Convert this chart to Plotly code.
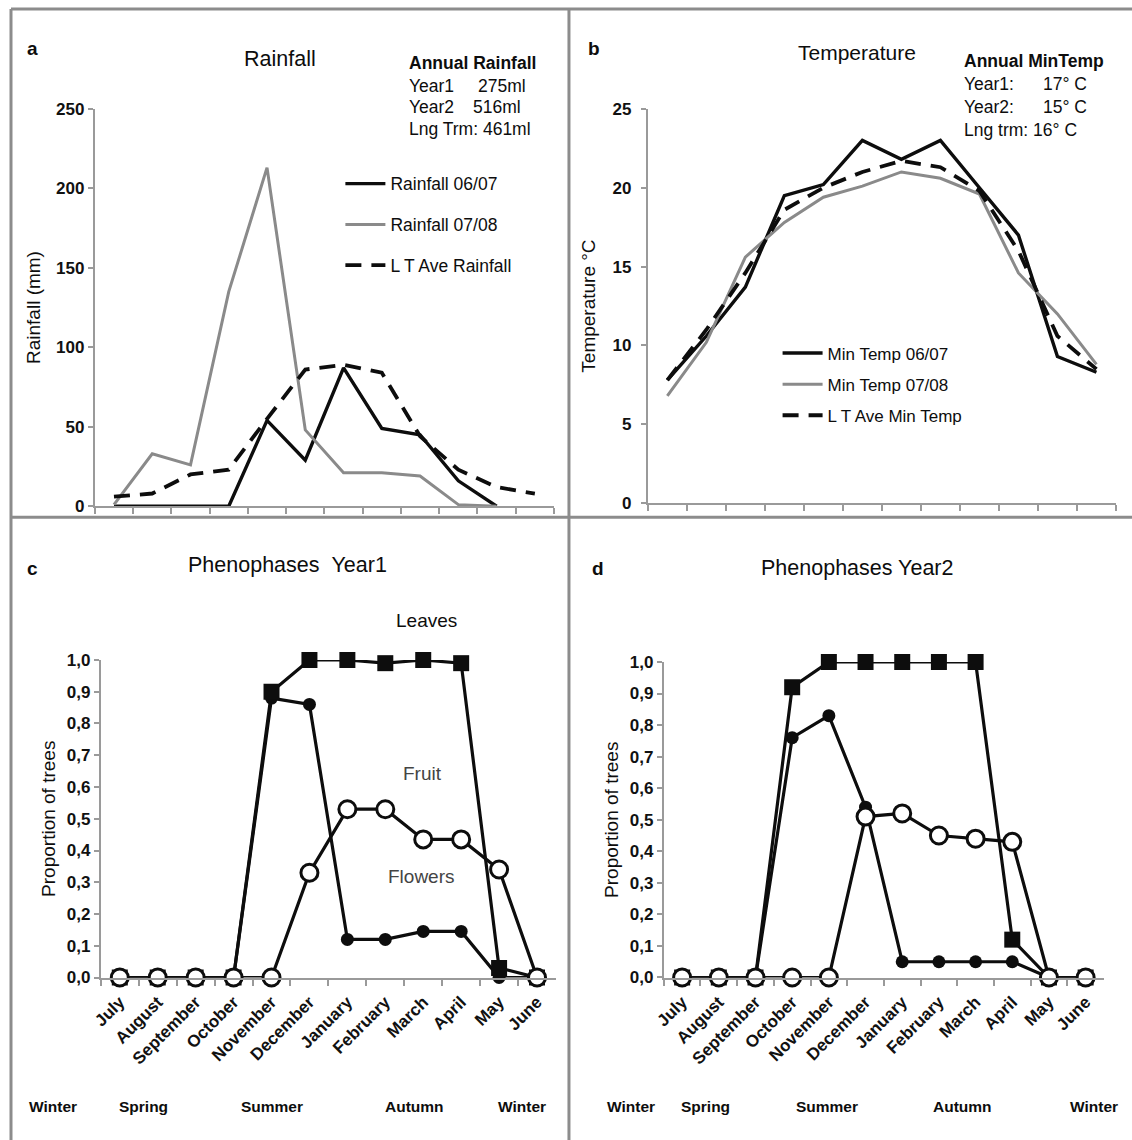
import plotly.graph_objects as go

W, H = 1132, 1150

months = ["July", "August", "September", "October", "November", "December",
          "January", "February", "March", "April", "May", "June"]
idx = list(range(12))

# Panel a: rainfall (mm)
rain_0607 = [0, 0, 0, 0, 54, 29, 87, 49, 45, 16, 0, None]
rain_0708 = [1, 33, 26, 135, 213, 48, 21, 21, 19, 1, 0, None]
rain_lt = [6, 8, 20, 23, 55, 86, 89, 84, 44, 23, 12, 8]

# Panel b: minimum temperature (°C)
temp_0607 = [7.8, 10.6, 13.7, 19.5, 20.2, 23.0, 21.8, 23.0, 20.0, 17.0, 9.3, 8.3]
temp_0708 = [6.8, 10.2, 15.6, 17.8, 19.4, 20.1, 21.0, 20.6, 19.6, 14.6, 12.0, 8.8]
temp_lt = [7.8, 11.0, 14.6, 18.6, 20.0, 21.0, 21.7, 21.3, 19.8, 16.0, 10.6, 8.5]

# Panel c: phenophases year 1
leaves_y1 = [0, 0, 0, 0, 0.90, 1.00, 1.00, 0.99, 1.00, 0.99, 0.03, 0.0]
flowers_y1 = [0, 0, 0, 0, 0.88, 0.86, 0.12, 0.12, 0.145, 0.145, 0.0, 0.0]
fruit_y1 = [0, 0, 0, 0, 0, 0.33, 0.53, 0.53, 0.435, 0.435, 0.34, 0.0]

# Panel d: phenophases year 2
leaves_y2 = [0, 0, 0, 0.92, 1.00, 1.00, 1.00, 1.00, 1.00, 0.12, 0.0, 0.0]
flowers_y2 = [0, 0, 0, 0.76, 0.83, 0.54, 0.05, 0.05, 0.05, 0.05, 0.0, 0.0]
fruit_y2 = [0, 0, 0, 0, 0, 0.51, 0.52, 0.45, 0.44, 0.43, 0.0, 0.0]

prop_ticks = [i / 10 for i in range(11)]
prop_ticktext = [("%.1f" % v).replace(".", ",") for v in prop_ticks]

seasons = ["Winter", "Spring", "Summer", "Autumn", "Winter"]

FONT = "Liberation Sans, Arial, sans-serif"
BLACK = "#0d0d0d"
GREY = "#8a8a8a"
AXIS = "#9a9a9a"
DASH = "16px,10px"


def px(x):
    return ((x - 7) / 0.993) / W


def py(y):
    return 1 - ((y - 8) / 0.985) / H


fig = go.Figure()

# ---------- Panel a ----------
fig.add_trace(go.Scatter(x=idx, y=rain_0607, mode="lines", name="Rainfall 06/07",
                         line=dict(color=BLACK, width=3.4), xaxis="x", yaxis="y",
                         legend="legend", legendgroup="a1"))
fig.add_trace(go.Scatter(x=idx, y=rain_0708, mode="lines", name="Rainfall 07/08",
                         line=dict(color=GREY, width=3), xaxis="x", yaxis="y",
                         legend="legend", legendgroup="a2"))
fig.add_trace(go.Scatter(x=idx, y=rain_lt, mode="lines", name="L T Ave Rainfall",
                         line=dict(color=BLACK, width=3.8, dash=DASH), xaxis="x", yaxis="y",
                         legend="legend", legendgroup="a3"))

# ---------- Panel b ----------
fig.add_trace(go.Scatter(x=idx, y=temp_0607, mode="lines", name="Min Temp 06/07",
                         line=dict(color=BLACK, width=3.4), xaxis="x2", yaxis="y2",
                         legend="legend2", legendgroup="b1"))
fig.add_trace(go.Scatter(x=idx, y=temp_0708, mode="lines", name="Min Temp 07/08",
                         line=dict(color=GREY, width=3), xaxis="x2", yaxis="y2",
                         legend="legend2", legendgroup="b2"))
fig.add_trace(go.Scatter(x=idx, y=temp_lt, mode="lines", name="L T Ave Min Temp",
                         line=dict(color=BLACK, width=3.8, dash=DASH), xaxis="x2", yaxis="y2",
                         legend="legend2", legendgroup="b3"))

# ---------- Panels c, d ----------
for (lv, fl, fr, xa, ya) in [(leaves_y1, flowers_y1, fruit_y1, "x3", "y3"),
                             (leaves_y2, flowers_y2, fruit_y2, "x4", "y4")]:
    fig.add_trace(go.Scatter(x=months, y=fl, mode="lines+markers", name="Flowers",
                             line=dict(color=BLACK, width=3.2),
                             marker=dict(symbol="circle", size=13, color=BLACK),
                             xaxis=xa, yaxis=ya, showlegend=False, cliponaxis=False))
    fig.add_trace(go.Scatter(x=months, y=lv, mode="lines+markers", name="Leaves",
                             line=dict(color=BLACK, width=3.2),
                             marker=dict(symbol="square", size=16, color=BLACK),
                             xaxis=xa, yaxis=ya, showlegend=False, cliponaxis=False))
    fig.add_trace(go.Scatter(x=months, y=fr, mode="lines+markers", name="Fruit",
                             line=dict(color=BLACK, width=3.2),
                             marker=dict(symbol="circle", size=17, color="white",
                                         line=dict(color=BLACK, width=3)),
                             xaxis=xa, yaxis=ya, showlegend=False, cliponaxis=False))

tickfont = dict(family=FONT, size=17, color="#111111", weight="bold")

common_x = dict(showgrid=False, zeroline=False, showline=True, linecolor=AXIS, linewidth=2,
                ticks="outside", ticklen=6, tickcolor=AXIS, tickwidth=1.5)
common_y = dict(showgrid=False, zeroline=False, showline=True, linecolor=AXIS, linewidth=2,
                ticks="outside", ticklen=5, tickcolor=AXIS, tickwidth=1.5, tickfont=tickfont)

bounds = [i - 0.5 for i in range(13)]
ytitle_font = dict(family=FONT, size=19, color=BLACK)
cat_font = dict(family=FONT, size=17, color="#111111", weight="bold")

layout = dict(
    width=W, height=H,
    margin=dict(l=0, r=0, t=0, b=0),
    paper_bgcolor="white", plot_bgcolor="white",
    font=dict(family=FONT, color=BLACK),
    xaxis=dict(domain=[px(92), px(552)], range=[-0.5, 11.5], tickvals=bounds,
               showticklabels=False, anchor="y", **common_x),
    yaxis=dict(domain=[py(506), py(108)], range=[0, 250], tickvals=[0, 50, 100, 150, 200, 250],
               anchor="x", title=dict(text="Rainfall (mm)", font=ytitle_font, standoff=10),
               **common_y),
    xaxis2=dict(domain=[px(646), px(1115)], range=[-0.5, 11.5], tickvals=bounds,
                showticklabels=False, anchor="y2", **common_x),
    yaxis2=dict(domain=[py(503), py(108)], range=[0, 25], tickvals=[0, 5, 10, 15, 20, 25],
                anchor="x2", ticklabelstandoff=6,
                title=dict(text="Temperature °C", font=ytitle_font, standoff=12),
                **common_y),
    xaxis3=dict(domain=[px(98), px(554)], type="category", categoryorder="array",
                categoryarray=months, range=[-0.5, 11.5], tickson="boundaries",
                tickangle=-45, tickfont=cat_font, ticklabelstandoff=6, anchor="y3", **common_x),
    yaxis3=dict(domain=[py(978), py(660)], range=[0, 1], tickvals=prop_ticks, ticktext=prop_ticktext,
                anchor="x3", title=dict(text="Proportion of trees", font=ytitle_font, standoff=6),
                **common_y),
    xaxis4=dict(domain=[px(662), px(1103)], type="category", categoryorder="array",
                categoryarray=months, range=[-0.5, 11.5], tickson="boundaries",
                tickangle=-45, tickfont=cat_font, ticklabelstandoff=6, anchor="y4", **common_x),
    yaxis4=dict(domain=[py(978), py(662)], range=[0, 1], tickvals=prop_ticks, ticktext=prop_ticktext,
                anchor="x4", title=dict(text="Proportion of trees", font=ytitle_font, standoff=6),
                **common_y),
    legend=dict(x=px(338), y=py(165), xanchor="left", yanchor="top", bgcolor="rgba(0,0,0,0)",
                font=dict(family=FONT, size=17.5, color=BLACK), tracegroupgap=15,
                itemwidth=40, traceorder="grouped"),
    legend2=dict(x=px(776), y=py(335), xanchor="left", yanchor="top", bgcolor="rgba(0,0,0,0)",
                 font=dict(family=FONT, size=17, color=BLACK), tracegroupgap=6,
                 itemwidth=40, traceorder="grouped"),
    showlegend=True,
)
fig.update_layout(**layout)

ann = []


def text(x, y, s, size=16, bold=False, anchor="left", color=BLACK):
    ann.append(dict(x=px(x), y=py(y), xref="paper", yref="paper", text=("<b>%s</b>" % s) if bold else s,
                    showarrow=False, xanchor=anchor, yanchor="middle",
                    font=dict(family=FONT, size=size, color=color)))


# panel letters
text(30, 48, "a", 19, True, "center")
text(592, 48, "b", 19, True, "center")
text(30, 568, "c", 19, True, "center")
text(596, 568, "d", 19, True, "center")

# titles
text(278, 58, "Rainfall", 21.5, False, "center")
text(856, 52, "Temperature", 21, False, "center")
text(285, 565, "Phenophases&nbsp;&nbsp;Year1", 21.5, False, "center")
text(856, 568, "Phenophases Year2", 21.5, False, "center")

# annual rainfall box
text(405, 62, "Annual Rainfall", 17.5, True)
text(405, 85, "Year1", 17.5)
text(474, 85, "275ml", 17.5)
text(405, 106, "Year2", 17.5)
text(469, 106, "516ml", 17.5)
text(405, 128, "Lng Trm: 461ml", 17.5)

# annual min temp box
text(961, 60, "Annual MinTemp", 17.5, True)
text(961, 83, "Year1:", 17.5)
text(1040, 83, "17° C", 17.5)
text(961, 106, "Year2:", 17.5)
text(1040, 106, "15° C", 17.5)
text(961, 129, "Lng trm: 16° C", 17.5)

# phenophase labels
text(424, 620, "Leaves", 19, False, "center")
text(420, 774, "Fruit", 19, False, "center", "#444444")
text(419, 877, "Flowers", 19, False, "center", "#444444")

# seasons
for s, x in zip(seasons, [50, 141, 269, 412, 520]):
    text(x, 1107, s, 15.5, True, "center")
for s, x in zip(seasons, [629, 704, 826, 961, 1093]):
    text(x, 1107, s, 15.5, True, "center")

fig.update_layout(annotations=ann)

# panel borders
shapes = []
BORDER = "#8c8c8c"
for (x0, y0, x1, y1) in [(8, 8, 1135, 8), (8, 8, 8, 1145), (567, 8, 567, 1145), (8, 517, 1135, 517)]:
    shapes.append(dict(type="line", xref="paper", yref="paper", x0=px(x0), y0=py(y0), x1=px(x1), y1=py(y1),
                       line=dict(color=BORDER, width=3)))
fig.update_layout(shapes=shapes)

fig.write_html("out.html")
